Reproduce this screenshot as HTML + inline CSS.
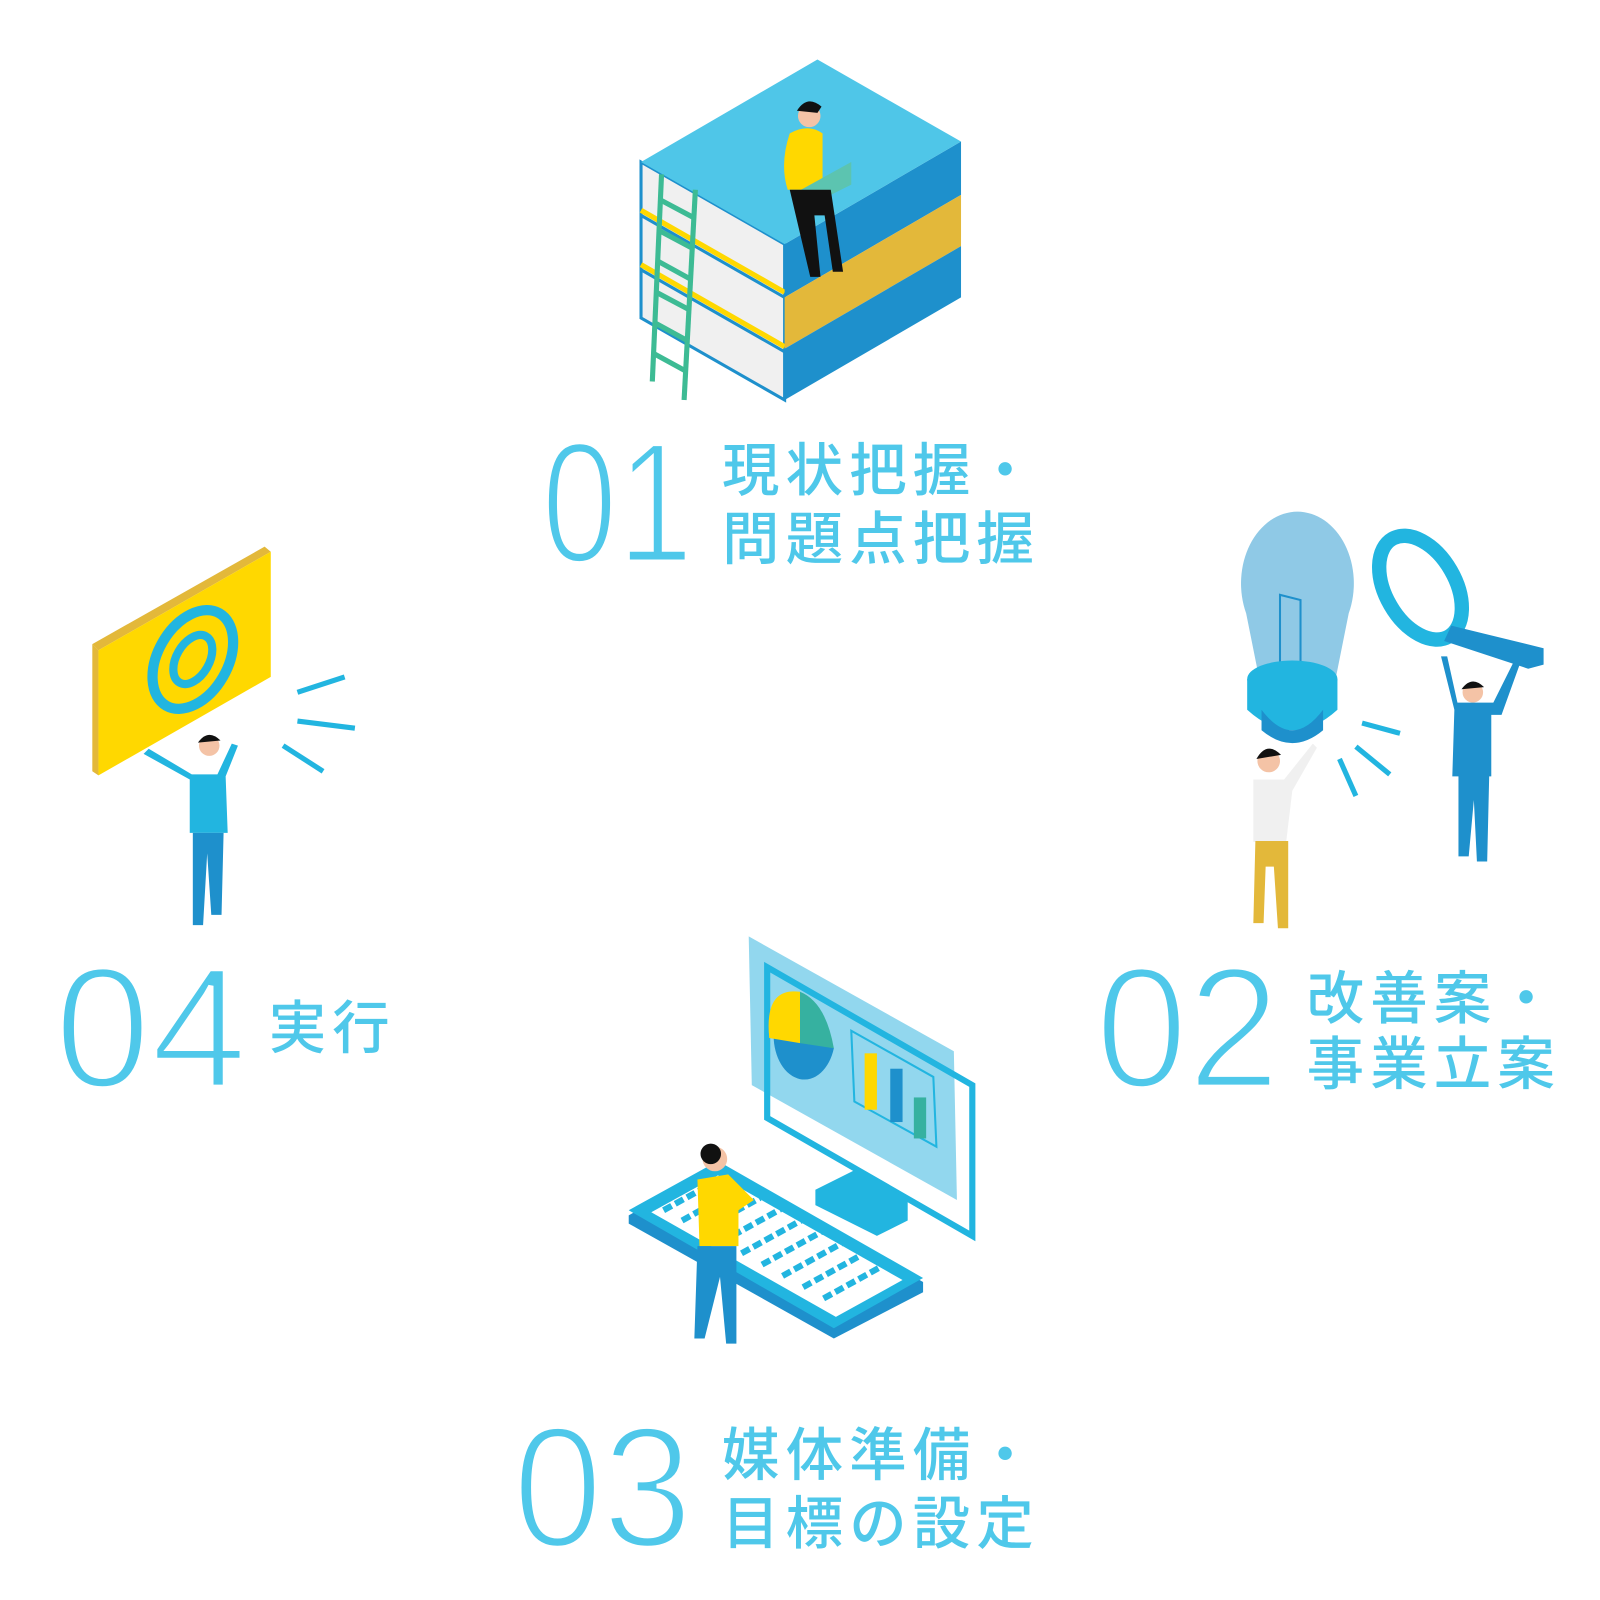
<!DOCTYPE html>
<html><head><meta charset="utf-8"><style>
html,body{margin:0;padding:0;background:#fff;}
svg{display:block}
.num{font-family:"Liberation Sans",sans-serif;fill:#4FC8EA;font-size:168px;stroke:#fff;stroke-width:5px;}
.jp{font-family:"Liberation Sans","Noto Sans CJK JP",sans-serif;fill:#4FC8EA;font-size:56px;font-weight:500;letter-spacing:6px}
</style></head><body>
<svg width="1600" height="1600" viewBox="0 0 1560 1560" xmlns="http://www.w3.org/2000/svg">
<polygon points="625,158 765,238 765,390 625,310" fill="#F0F0F0" stroke="#1E90CC" stroke-width="3"/>
<polyline points="625,205 765,285" stroke="#FFD800" stroke-width="5" fill="none"/>
<polyline points="625,258 765,338" stroke="#FFD800" stroke-width="5" fill="none"/>
<polyline points="625,210 765,290" stroke="#1E90CC" stroke-width="3" fill="none"/>
<polyline points="625,263 765,343" stroke="#1E90CC" stroke-width="3" fill="none"/>
<polygon points="765,238 937,138 937,190 765,290" fill="#1E90CC"/>
<polygon points="765,290 937,190 937,240 765,340" fill="#E3B83A"/>
<polygon points="765,340 937,240 937,290 765,390" fill="#1E90CC"/>
<polygon points="625,158 797,58 937,138 765,238" fill="#4FC6E8"/>
<g stroke="#3DBB94" stroke-width="5" fill="none">
<line x1="645" y1="170" x2="636" y2="372"/><line x1="678" y1="185" x2="667" y2="390"/>
<line x1="644" y1="195" x2="676" y2="212"/><line x1="643" y1="225" x2="675" y2="242"/><line x1="642" y1="255" x2="673" y2="272"/><line x1="640" y1="285" x2="672" y2="302"/><line x1="639" y1="315" x2="670" y2="332"/><line x1="638" y1="345" x2="669" y2="362"/>
</g>
<circle cx="789" cy="113" r="11" fill="#F4C3A6"/><path d="M777,108 q10,-16 24,-4 l-4,6 z" fill="#111"/>
<path d="M770,130 q18,-10 32,0 l0,55 l-34,0 q-8,-25 2,-55z" fill="#FFD800"/>
<polygon points="772,190 830,158 830,180 790,200" fill="#5CC4B0"/>
<path d="M770,185 l40,0 l12,80 l-10,0 l-8,-55 l-10,0 l6,60 l-10,0 z" fill="#111"/>
<polygon points="90,628 258,533 264,538 96,634" fill="#E3B83A"/>
<polygon points="90,628 96,634 96,756 90,752" fill="#E3B83A"/>
<polygon points="96,634 264,538 264,660 96,756" fill="#FFD800"/>
<ellipse cx="188" cy="643" rx="34" ry="52" transform="rotate(30 188 643)" fill="none" stroke="#22B5E0" stroke-width="10"/>
<ellipse cx="188" cy="643" rx="16" ry="26" transform="rotate(30 188 643)" fill="none" stroke="#22B5E0" stroke-width="8"/>
<g stroke="#22B5E0" stroke-width="5"><line x1="290" y1="675" x2="336" y2="660"/><line x1="290" y1="703" x2="346" y2="710"/><line x1="276" y1="727" x2="315" y2="752"/></g>
<circle cx="204" cy="727" r="10" fill="#F4C3A6"/><path d="M193,724 q10,-14 22,-2z" fill="#111"/>
<path d="M140,735 l45,25 l0,52 l37,0 l-2,-55 l12,-30 l-6,-2 l-14,30 l-25,0 l-42,-25z" fill="#22B5E0"/>
<path d="M188,812 l30,0 l-2,80 l-10,0 l-4,-60 l-4,70 l-10,0z" fill="#1E90CC"/>
<path d="M1215,598 a55,70 0 1 1 100,0 l-12,60 l-76,0z" fill="#8FC9E6"/>
<path d="M1248,670 l0,-90 l20,5 l0,85" stroke="#1E90CC" stroke-width="2" fill="none"/>
<ellipse cx="1260" cy="662" rx="44" ry="18" fill="#22B5E0"/>
<path d="M1216,662 l0,30 q44,40 88,0 l0,-30z" fill="#22B5E0"/>
<path d="M1230,692 q30,40 60,0 l0,20 q-30,25 -60,0z" fill="#1E90CC"/>
<ellipse cx="1385" cy="573" rx="34" ry="55" transform="rotate(-30 1385 573)" fill="none" stroke="#22B5E0" stroke-width="14"/>
<polygon points="1415,610 1505,632 1505,648 1490,652 1408,625" fill="#1E90CC"/>
<g stroke="#22B5E0" stroke-width="5"><line x1="1328" y1="705" x2="1365" y2="715"/><line x1="1322" y1="728" x2="1355" y2="755"/><line x1="1306" y1="740" x2="1322" y2="776"/></g>
<circle cx="1237" cy="742" r="11" fill="#F4C3A6"/><path d="M1225,740 q10,-18 24,-4z" fill="#111"/>
<path d="M1222,760 l30,0 l28,-35 l4,4 l-24,42 l-6,50 l-32,0z" fill="#F0F0F0"/>
<path d="M1224,820 l32,0 l0,85 l-10,0 l-4,-60 l-8,0 l-2,55 l-10,0z" fill="#E3B83A"/>
<circle cx="1436" cy="675" r="10" fill="#F4C3A6"/><path d="M1425,672 q10,-14 22,-2z" fill="#111"/>
<path d="M1405,640 l6,0 l10,45 l35,0 l20,-40 l6,2 l-18,50 l-10,0 l0,60 l-38,0 l2,-65z" fill="#1E90CC"/>
<path d="M1422,755 l30,0 l-2,85 l-10,0 l-3,-60 l-5,55 l-10,0z" fill="#1E90CC"/>
<polygon points="730,913 930,1025 933,1170 733,1058" fill="#92D7EE"/>
<polygon points="748,943 948,1058 948,1205 748,1090" fill="none" stroke="#22B5E0" stroke-width="6"/>
<path d="M780,967 a30,43 0 1 0 33,55z" fill="#1E90CC"/>
<path d="M780,967 l0,50 l-30,-5 q-5,-50 30,-45z" fill="#FFD800"/>
<path d="M780,967 q25,10 33,55 l-33,-5z" fill="#36B1A0"/>
<polygon points="830,1005 910,1050 913,1118 833,1074" fill="none" stroke="#22B5E0" stroke-width="2"/>
<rect x="843" y="1027" width="12" height="55" fill="#FFD800"/><rect x="868" y="1042" width="12" height="52" fill="#1E90CC"/><rect x="891" y="1070" width="12" height="40" fill="#36B1A0"/>
<polygon points="795,1160 835,1140 885,1170 885,1190 855,1205 795,1175" fill="#22B5E0"/>
<polygon points="613,1185 700,1135 900,1250 900,1260 813,1305 613,1193" fill="#1E90CC"/>
<polygon points="613,1180 700,1132 900,1246 813,1295" fill="#22B5E0"/>
<polygon points="635,1182 700,1146 880,1248 815,1284" fill="#fff"/>
<g stroke="#22B5E0" stroke-width="6" stroke-dasharray="9 4">
<line x1="647" y1="1180" x2="705" y2="1148"/><line x1="665" y1="1190" x2="723" y2="1158"/><line x1="683" y1="1200" x2="741" y2="1168"/>
<line x1="703" y1="1211" x2="761" y2="1179"/><line x1="723" y1="1222" x2="781" y2="1190"/><line x1="743" y1="1233" x2="801" y2="1201"/>
<line x1="763" y1="1244" x2="821" y2="1212"/><line x1="783" y1="1255" x2="841" y2="1223"/><line x1="803" y1="1266" x2="861" y2="1234"/>
</g>
<circle cx="697" cy="1130" r="12" fill="#F4C3A6"/><circle cx="693" cy="1125" r="10" fill="#111"/>
<path d="M680,1150 l30,-5 l25,25 l-15,10 l0,35 l-38,0z" fill="#FFD800"/>
<path d="M680,1215 l38,0 l0,95 l-10,0 l-6,-65 l-15,60 l-10,0z" fill="#1E90CC"/>
<text class="num" x="528" y="548" textLength="148" lengthAdjust="spacingAndGlyphs">01</text>
<text class="jp" x="704" y="478">現状把握・</text>
<text class="jp" x="704" y="545">問題点把握</text>
<text class="num" x="53" y="1060" textLength="188" lengthAdjust="spacingAndGlyphs">04</text>
<text class="jp" x="262" y="1022">実行</text>
<text class="num" x="1068" y="1060" textLength="180" lengthAdjust="spacingAndGlyphs">02</text>
<text class="jp" x="1274" y="993">改善案・</text>
<text class="jp" x="1274" y="1057">事業立案</text>
<text class="num" x="500" y="1508" textLength="175" lengthAdjust="spacingAndGlyphs">03</text>
<text class="jp" x="704" y="1438">媒体準備・</text>
<text class="jp" x="704" y="1505">目標の設定</text>
</svg>
</body></html>
